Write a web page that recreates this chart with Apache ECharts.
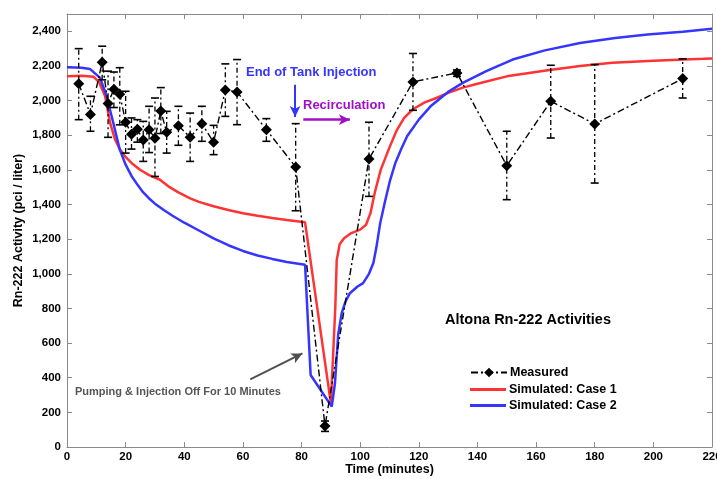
<!DOCTYPE html>
<html><head><meta charset="utf-8">
<script src="https://cdn.jsdelivr.net/npm/echarts@6/dist/echarts.min.js"></script>
<style>html,body{margin:0;padding:0;background:#fff}#c{width:717px;height:479px}</style>
</head><body><div id="c"></div>
<script>
// Measured data: time (min), activity, error low, error high
const measTime = [4,8,12,14,16,18,20,22,24,26,28,30,32,34,38,42,46,50,54,58,68,78,88,103,118,133,150,165,180,210];
const measVal  = [2097,1920,2222,1983,2066,2037,1875,1805,1834,1772,1832,1782,1940,1817,1855,1788,1866,1760,2061,2050,1832,1617,121,1663,2108,2160,1624,1996,1865,2127];
const errLow   = [1890,1823,2120,1788,1960,1860,1697,1720,1760,1649,1700,1562,1810,1697,1742,1649,1765,1688,1909,1861,1765,1364,90,1447,1944,2140,1428,1784,1524,2015];
const errHigh  = [2300,2025,2314,2170,2165,2190,2054,1900,1890,1880,1967,2015,2075,1938,1967,1928,1967,1857,2212,2237,1896,1867,150,1875,2272,2177,1823,2204,2208,2241];

// Simulated Case 1 (red)
const c1Time = [0,5,9,11,13,14.7,16.4,18,19.8,22,24.9,28,31.7,35,38,42,45,50,55,60,65,70,75,81.2,90,91.5,92,93,94.5,97,100,102,103.5,105,107,110,112.5,115,118,122,126,130,135,141,150,164,175,186,200,217,220];
const c1Val  = [2140,2143,2138,2105,2025,1871,1775,1720,1678,1640,1601,1570,1543,1500,1470,1435,1415,1390,1368,1350,1335,1322,1310,1297,252,800,1080,1170,1205,1235,1255,1283,1350,1470,1600,1730,1830,1900,1950,1990,2015,2045,2075,2102,2140,2175,2200,2218,2230,2241,2243];

// Simulated Case 2 (blue)
const c2Time = [0,5,7.8,11.3,13.5,15.8,18,20,22,24,26,28,30,33,36,40,45,50,55,60,65,70,75,81.2,83.1,90.3,91.4,92.5,93.7,95,96.5,99,101,103,104.5,105.5,106.8,108.5,110.2,112,114,116,120,124,130,135,143,152,163,175,187,198,210,220];
const c2Val  = [2192,2190,2183,2131,2025,1871,1717,1630,1565,1515,1470,1435,1405,1368,1335,1295,1250,1205,1165,1132,1106,1086,1068,1052,416,233,368,650,773,840,888,925,946,1000,1062,1150,1290,1420,1540,1640,1720,1794,1890,1967,2050,2102,2170,2237,2290,2333,2362,2381,2398,2415];

const xTicks = [0,20,40,60,80,100,120,140,160,180,200,220];
const yTicks = [0,200,400,600,800,1000,1200,1400,1600,1800,2000,2200,2400];

const zip = (a,b) => a.map((v,i)=>[v,b[i]]);
const dashDot = [7,3,2,3];
const fontFam = '"Liberation Sans", Arial, sans-serif';
const axisCol = '#8a8a8a';
const legendText = {fontFamily:fontFam,fontWeight:'bold',fontSize:12.5,color:'#000',padding:[0,0,0,-2]};

const chart = echarts.init(document.getElementById('c'));
chart.setOption({
  animation:false,
  backgroundColor:'#fff',
  textStyle:{fontFamily:fontFam},
  grid:{left:67,right:5,top:14,bottom:32,containLabel:false,outerBoundsMode:'none'},
  legend:[{
    orient:'vertical', left:465, top:361, itemWidth:36, itemHeight:12, itemGap:6,
    textStyle:legendText, data:['Measured']
  },{
    orient:'vertical', left:465, top:378, itemWidth:36, itemHeight:3, itemGap:3,
    icon:'rect', textStyle:legendText, data:['Simulated: Case 1','Simulated: Case 2']
  }],
  xAxis:[{
    type:'value', min:0, max:220, interval:20,
    name:'Time (minutes)', nameLocation:'middle', nameGap:16, nameMoveOverlap:false,
    nameTextStyle:{fontFamily:fontFam,fontWeight:'bold',fontSize:12.5,color:'#000'},
    axisLine:{show:true,onZero:false,lineStyle:{color:axisCol,width:1}},
    axisTick:{show:true,inside:true,length:5,lineStyle:{color:axisCol}},
    axisLabel:{fontFamily:fontFam,fontWeight:'bold',fontSize:11.5,color:'#000',margin:4,
      formatter:v=>xTicks.includes(v)?String(v):''},
    splitLine:{show:false}
  },{
    type:'value', min:0, max:220, interval:20, position:'top',
    axisLine:{show:true,onZero:false,lineStyle:{color:axisCol,width:1}},
    axisTick:{show:true,inside:true,length:5,lineStyle:{color:axisCol}},
    axisLabel:{show:false}, splitLine:{show:false}
  }],
  yAxis:[{
    type:'value', min:0, max:2500, interval:200,
    name:'Rn-222 Activity (pci / liter)', nameLocation:'middle', nameGap:42, nameRotate:90, nameMoveOverlap:false,
    nameTextStyle:{fontFamily:fontFam,fontWeight:'bold',fontSize:12.5,color:'#000'},
    axisLine:{show:true,onZero:false,lineStyle:{color:axisCol,width:1}},
    axisTick:{show:true,inside:true,length:5,lineStyle:{color:axisCol}},
    axisLabel:{fontFamily:fontFam,fontWeight:'bold',fontSize:11.5,color:'#000',margin:6,showMaxLabel:false,
      formatter:v=>yTicks.includes(v)?v.toLocaleString('en-US'):''},
    splitLine:{show:false}
  },{
    type:'value', min:0, max:2500, interval:200, position:'right',
    axisLine:{show:true,onZero:false,lineStyle:{color:axisCol,width:1}},
    axisTick:{show:true,inside:true,length:5,lineStyle:{color:axisCol}},
    axisLabel:{show:false}, splitLine:{show:false}
  }],
  series:[
    {
      name:'Simulated: Case 1', type:'line', data:zip(c1Time,c1Val), showSymbol:false, symbol:'none',
      color:'#ff3333', lineStyle:{color:'#ff3333',width:2.5}, z:2
    },
    {
      name:'Simulated: Case 2', type:'line', data:zip(c2Time,c2Val), showSymbol:false, symbol:'none',
      color:'#3535ff', lineStyle:{color:'#3535ff',width:2.5}, z:2,
      markLine:{
        silent:true, symbol:['none','arrow'], symbolSize:[8,11], label:{show:false},
        data:[
          [{coord:[77.8,2092],lineStyle:{color:'#3535ff',width:2,type:'solid'}},{coord:[77.8,1905]}],
          [{coord:[80.6,1890],lineStyle:{color:'#a00fc8',width:2.5,type:'solid'}},{coord:[96.5,1890]}],
          [{coord:[62.5,390],lineStyle:{color:'#505050',width:2,type:'solid'}},{coord:[80.3,540]}]
        ]
      }
    },
    {
      name:'Measured', type:'line', data:zip(measTime,measVal), symbol:'diamond', symbolSize:11,
      color:'#000', itemStyle:{color:'#000'}, lineStyle:{color:'#000',width:1.4,type:dashDot}, z:4
    },
    {
      name:'errors', type:'custom', z:3,
      data:measTime.map((t,i)=>[t,errLow[i],errHigh[i]]),
      renderItem:(params,api)=>{
        const lo = api.coord([api.value(0),api.value(1)]);
        const hi = api.coord([api.value(0),api.value(2)]);
        const hw = 4;
        return {type:'group',children:[
          {type:'line',shape:{x1:lo[0],y1:lo[1],x2:hi[0],y2:hi[1]},style:{stroke:'#000',lineWidth:1.3,lineDash:[5,3,2,3]}},
          {type:'line',shape:{x1:lo[0]-hw,y1:lo[1],x2:lo[0]+hw,y2:lo[1]},style:{stroke:'#000',lineWidth:1.6}},
          {type:'line',shape:{x1:hi[0]-hw,y1:hi[1],x2:hi[0]+hw,y2:hi[1]},style:{stroke:'#000',lineWidth:1.6}}
        ]};
      }
    }
  ],
  graphic:[
    {type:'text',left:246,top:66,style:{text:'End of Tank Injection',fill:'#3535ff',font:'bold 13px '+fontFam}},
    {type:'text',left:303,top:99,style:{text:'Recirculation',fill:'#a00fc8',font:'bold 13px '+fontFam}},
    {type:'text',left:75,top:386,style:{text:'Pumping & Injection Off For 10 Minutes',fill:'#555',font:'bold 11px '+fontFam}},
    {type:'text',left:445,top:312,style:{text:'Altona Rn-222 Activities',fill:'#000',font:'bold 14.5px '+fontFam}}
  ]
});
</script></body></html>
